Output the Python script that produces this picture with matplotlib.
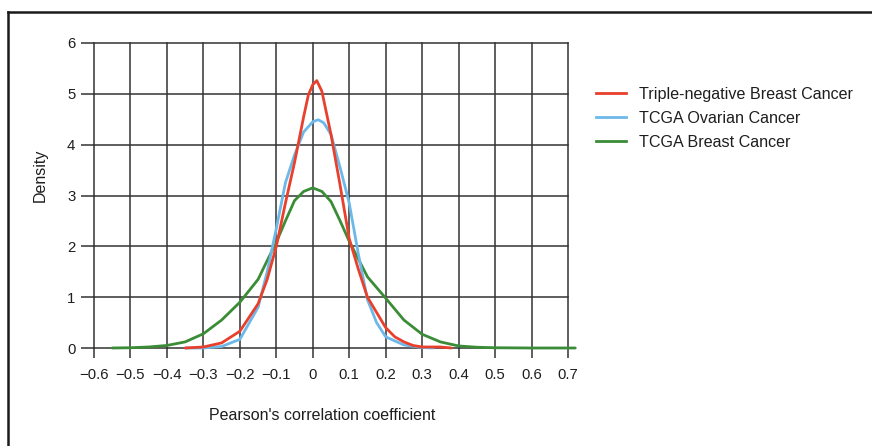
import matplotlib
matplotlib.use("Agg")
import matplotlib.pyplot as plt
from matplotlib.lines import Line2D

plt.rcParams['font.family'] = ['Liberation Sans', 'DejaVu Sans']

# ---- data ----
tnbc_x = [-0.35, -0.3, -0.25, -0.2, -0.15, -0.125, -0.1, -0.075, -0.05, -0.025,
          -0.012, 0.0, 0.011, 0.025, 0.05, 0.075, 0.1, 0.125, 0.15, 0.175, 0.2,
          0.225, 0.25, 0.275, 0.3, 0.35, 0.38]
tnbc_y = [0.0, 0.02, 0.1, 0.33, 0.87, 1.35, 2.0, 2.85, 3.65, 4.55,
          4.98, 5.18, 5.26, 5.05, 4.2, 3.2, 2.15, 1.55, 1.0, 0.7, 0.4,
          0.22, 0.12, 0.05, 0.02, 0.02, 0.0]

ov_x = [-0.35, -0.3, -0.25, -0.2, -0.15, -0.125, -0.1, -0.075, -0.05, -0.025,
        0.0, 0.015, 0.03, 0.05, 0.075, 0.1, 0.125, 0.15, 0.175, 0.2, 0.25,
        0.3, 0.33]
ov_y = [0.0, 0.0, 0.03, 0.17, 0.8, 1.5, 2.35, 3.25, 3.8, 4.25,
        4.45, 4.49, 4.43, 4.2, 3.55, 2.85, 1.85, 0.95, 0.5, 0.22, 0.06,
        0.01, 0.0]

br_x = [-0.55, -0.5, -0.45, -0.4, -0.35, -0.3, -0.25, -0.2, -0.15, -0.125,
        -0.1, -0.075, -0.05, -0.025, 0.0, 0.025, 0.05, 0.075, 0.1, 0.125,
        0.15, 0.2, 0.25, 0.3, 0.35, 0.4, 0.45, 0.5, 0.6, 0.72]
br_y = [0.0, 0.005, 0.02, 0.05, 0.12, 0.28, 0.55, 0.9, 1.35, 1.72,
        2.08, 2.5, 2.9, 3.08, 3.15, 3.08, 2.88, 2.5, 2.1, 1.75,
        1.4, 0.98, 0.55, 0.27, 0.12, 0.04, 0.015, 0.005, 0.0, 0.0]

labels = ["Triple-negative Breast Cancer", "TCGA Ovarian Cancer", "TCGA Breast Cancer"]
colors = ["#e8402c", "#6cb9e9", "#3b8c36"]

xticks = [-0.6, -0.5, -0.4, -0.3, -0.2, -0.1, 0, 0.1, 0.2, 0.3, 0.4, 0.5, 0.6, 0.7]
xticklabels = ["\u22120.6", "\u22120.5", "\u22120.4", "\u22120.3", "\u22120.2", "\u22120.1",
               "0", "0.1", "0.2", "0.3", "0.4", "0.5", "0.6", "0.7"]
yticks = [0, 1, 2, 3, 4, 5, 6]

W, H = 872, 446
fig = plt.figure(figsize=(W / 100, H / 100), dpi=100)
ax = fig.add_axes([94 / W, 1 - 348 / H, (568 - 94) / W, (348 - 43) / H])

gridc = "#333333"
txtc = "#1e1e1e"
ax.set_xlim(-0.6, 0.7)
ax.set_ylim(0, 6)
ax.set_xticks(xticks)
ax.set_xticklabels(xticklabels)
ax.set_yticks(yticks)
ax.grid(True, color=gridc, linewidth=1.1)
for gl in ax.get_xgridlines() + ax.get_ygridlines():
    gl.set_clip_on(False)
ax.set_axisbelow(True)
for s in ax.spines.values():
    s.set_visible(False)
ax.tick_params(axis='x', length=7.5, width=1.1, color=gridc, pad=7,
               labelsize=10.7, labelcolor=txtc)
ax.tick_params(axis='y', length=9.5, width=1.1, color=gridc, pad=4,
               labelsize=10.7, labelcolor=txtc)

lw = 2.0
kw = dict(lw=lw, clip_on=False, solid_joinstyle='round', solid_capstyle='round')
ax.plot(br_x, br_y, color=colors[2], zorder=3, **kw)
ax.plot(ov_x, ov_y, color=colors[1], zorder=4, **kw)
ax.plot(tnbc_x, tnbc_y, color=colors[0], zorder=5, **kw)

fig.text(322 / W, 1 - 415 / H, "Pearson's correlation coefficient",
         ha='center', va='center', fontsize=11.5, color=txtc)
fig.text(40 / W, 1 - 175 / H, "Density", rotation=90,
         ha='center', va='center', fontsize=11.5, color=txtc)

handles = [Line2D([], [], color=c, lw=2.0) for c in colors]
fig.legend(handles, labels, loc='upper left',
           bbox_to_anchor=(596 / W, 1 - 87 / H), frameon=False,
           borderpad=0, borderaxespad=0, handlelength=1.85,
           handletextpad=0.8, labelspacing=0.56, fontsize=11.6,
           labelcolor=txtc)

# figure border (top and left edges visible)
fig.add_artist(Line2D([8 / W, 1.0], [1 - 12 / H, 1 - 12 / H],
                      transform=fig.transFigure, color="#1a1a1a", lw=1.8))
fig.add_artist(Line2D([8 / W, 8 / W], [1 - 12 / H, 0.0],
                      transform=fig.transFigure, color="#1a1a1a", lw=1.8))

fig.savefig("out.png", dpi=100)
